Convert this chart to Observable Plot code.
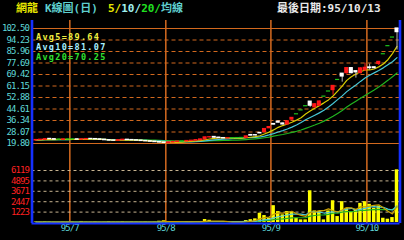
<!DOCTYPE html>
<html><head><meta charset="utf-8">
<script src="https://cdn.jsdelivr.net/npm/d3@7"></script>
<script src="https://cdn.jsdelivr.net/npm/@observablehq/plot@0.6"></script>
<style>
html,body{margin:0;padding:0;background:#000;}
#wrap{position:relative;width:404px;height:240px;background:#000;overflow:hidden;}
#wrap > svg{position:absolute;left:0;top:0;}
.t{position:absolute;white-space:nowrap;font-family:'DejaVu Sans Mono','Noto Sans CJK TC',monospace;font-weight:bold;font-size:11px;line-height:12px;}
.leg{font-size:8.5px;line-height:10px;letter-spacing:1.3px;}
</style></head><body><div id="wrap"></div>
<script>
// ---- data ----
const stockName = "網龍";
const chartTitle = "K線圖(日)";
const maTitleParts = ["5/", "10/", "20/", "均線"];
const lastDateText = "最後日期:95/10/13";
const maLabels = ["Avg5=89.64", "Avg10=81.07", "Avg20=70.25"];

const juneDays = [22,23,26,27,28,29,30];
const julyDays = [3,4,5,6,7,10,11,12,13,14,17,18,19,20,21,24,25,26,27,28,31];
const augDays  = [1,2,3,4,7,8,9,10,11,14,15,16,17,18,21,22,23,24,25,28,29,30,31];
const sepDays  = [1,4,5,6,7,8,11,12,13,14,15,18,19,20,21,22,25,26,27,28,29];
const octDays  = [2,3,4,5,9,11,12,13];
const monthLabels = ["95/7", "95/8", "95/9", "95/10"];

const open = [
22.0,22.3,22.5,23.1,22.9,22.6,22.5,
22.7,22.8,22.8,22.6,22.8,23.1,23.0,22.8,22.5,22.2,21.9,21.8,22.2,22.5,22.3,22.1,21.9,21.6,21.4,21.1,20.8,
20.5,20.2,20.6,20.9,21.2,21.3,21.6,21.8,22.2,22.8,24.2,24.5,24.0,23.7,23.5,23.6,23.7,23.8,23.9,25.9,25.8,27.4,28.0,
30.8,33.8,35.5,34.2,33.5,37.0,40.8,43.6,46.6,49.9,45.8,47.0,53.5,57.2,58.2,65.5,70.0,70.4,74.0,71.8,70.4,
72.5,74.5,74.6,77.0,84.0,89.8,96.0,102.5];
const high = [
22.6,22.7,23.1,23.3,23.0,22.8,22.9,
22.9,23.0,23.0,22.9,23.2,23.3,23.1,22.9,22.6,22.3,22.0,22.3,22.6,22.6,22.4,22.2,22.0,21.7,21.5,21.2,20.9,
20.6,20.7,21.0,21.3,21.5,21.7,21.9,22.3,22.8,24.3,24.6,24.7,24.2,23.9,23.8,23.9,24.0,24.0,25.0,26.2,26.0,27.4,30.3,
31.8,33.9,35.8,34.5,35.8,38.2,40.8,43.6,46.6,49.9,48.5,50.3,53.5,57.2,61.3,65.5,70.1,74.2,74.3,72.0,74.2,
77.6,76.9,74.8,78.5,84.0,89.8,96.0,102.5];
const low = [
21.9,22.2,22.4,22.8,22.5,22.3,22.4,
22.5,22.6,22.5,22.5,22.7,22.9,22.7,22.4,22.1,21.8,21.6,21.7,22.1,22.2,22.0,21.8,21.5,21.3,21.0,20.6,20.3,
19.8,20.1,20.5,20.8,21.0,21.2,21.4,21.7,22.1,22.7,23.9,23.8,23.6,23.4,23.3,23.4,23.6,23.7,23.8,25.3,25.3,26.9,27.8,
30.6,33.2,34.6,33.2,33.3,36.6,40.8,43.6,46.6,45.8,45.3,46.8,53.5,57.2,54.5,65.5,63.9,69.8,69.9,66.8,70.0,
71.8,72.5,73.5,76.0,84.0,89.8,96.0,87.0];
const close = [
22.3,22.5,22.9,22.9,22.6,22.6,22.7,
22.7,22.8,22.6,22.8,23.0,23.0,22.8,22.5,22.2,21.9,21.8,22.2,22.5,22.3,22.1,21.9,21.6,21.4,21.1,20.8,20.5,
20.2,20.6,20.9,21.2,21.2,21.6,21.8,22.2,22.7,24.2,24.3,24.0,23.7,23.5,23.6,23.6,23.7,23.8,24.9,25.5,25.6,27.1,30.2,
31.6,33.4,34.8,33.5,35.7,38.2,40.8,43.6,46.6,47.0,48.0,50.0,53.5,57.2,61.2,65.5,68.0,74.0,70.4,71.0,73.8,
74.2,74.0,74.0,78.5,84.0,89.8,96.0,99.9];
const volume = [
60,40,80,50,30,20,40,
30,50,20,120,40,30,60,20,30,90,40,30,80,20,60,40,30,50,20,40,150,
200,120,60,40,30,80,100,60,90,350,260,90,60,40,50,30,40,80,230,330,430,1090,815,
500,1980,1280,900,1280,1165,500,310,310,3730,1360,1280,310,1360,2560,700,2450,1670,1280,1550,2250,
2450,2140,1670,1940,500,390,580,6200];

const priceTicks = [102.50,94.23,85.96,77.69,69.42,61.15,52.88,44.61,36.34,28.07,19.80];
const volTicks = [6119,4895,3671,2447,1223];

// ---- build ----
const months = [["06",juneDays],["07",julyDays],["08",augDays],["09",sepDays],["10",octDays]];
const dates = months.flatMap(([m,ds]) => ds.map(d => `95/${m}/${String(d).padStart(2,"0")}`));
const rows = dates.map((d,i)=>({i, date:d, o:open[i], h:high[i], l:low[i], c:close[i], v:volume[i]}));
const monthStartIdx = [];
dates.forEach((d,i)=>{ if(i>0 && d.slice(3,5)!==dates[i-1].slice(3,5)) monthStartIdx.push(i); });

const RED="#ff1818", WHITE="#ffffff", GREEN="#1cc41c";
const C5="#d8cc00", C10="#48c8d8", C20="#20b420";
const bodyColor = r => r.c>r.o ? RED : r.c<r.o ? WHITE : GREEN;
const wickColor = r => r.c>r.o ? RED : r.c<r.o ? "#b8b8b8" : GREEN;
function ma(arr,n){return arr.map((_,i)=>d3.mean(arr.slice(Math.max(0,i-n+1),i+1)));}
const p5=ma(close,5), p10=ma(close,10), p20=ma(close,20);
const v5=ma(volume,5), v10=ma(volume,10), v20=ma(volume,20);

const W=404,H=240, mL=31.5, mR=4.5;
const xDomain=[-0.875,79.65];
const axisFont = {background:"transparent", fontFamily:"DejaVu Sans Mono", fontSize:"9px", letterSpacing:"-0.9px"};
const wrap=document.getElementById("wrap");

const overlay = Plot.plot({
  width:W,height:H,marginLeft:mL,marginRight:mR,marginTop:20,marginBottom:17,
  x:{domain:xDomain,axis:null}, y:{domain:[0,1],axis:null},
  style:{background:"transparent"},
  marks:[
    Plot.ruleX(monthStartIdx,{x:d=>d+0.4,stroke:"#c8641e",strokeWidth:1.6})
  ]
});

const price = Plot.plot({
  width:W,height:H,marginLeft:mL,marginRight:mR,marginTop:28,marginBottom:97,
  x:{domain:xDomain,axis:null},
  y:{domain:[19.8,102.5],ticks:priceTicks,tickFormat:d=>d.toFixed(2),tickSize:0,tickPadding:3,label:null},
  style:{...axisFont,color:"#5fd7d7"},
  marks:[
    Plot.ruleY(priceTicks.slice(1,-1),{stroke:"#d2691e",strokeDasharray:"4,3"}),
    Plot.ruleY([priceTicks[0],priceTicks[priceTicks.length-1]],{stroke:"#d2691e",strokeWidth:1.2}),
    Plot.line(p20,{x:(d,i)=>i,y:d=>d,stroke:C20,strokeWidth:1.2}),
    Plot.line(p10,{x:(d,i)=>i,y:d=>d,stroke:C10,strokeWidth:1.2}),
    Plot.line(p5,{x:(d,i)=>i,y:d=>d,stroke:C5,strokeWidth:1.2}),
    Plot.ruleX(rows,{x:"i",y1:"l",y2:"h",stroke:wickColor,strokeWidth:1}),
    Plot.rect(rows,{x1:d=>d.i-0.45,x2:d=>d.i+0.45,y1:"o",y2:"c",fill:bodyColor,insetTop:-0.6,insetBottom:-0.6})
  ]
});

const vol = Plot.plot({
  width:W,height:H,marginLeft:mL,marginRight:mR,marginTop:170,marginBottom:18,
  x:{domain:xDomain,axis:null},
  y:{domain:[0,6119],ticks:volTicks,tickFormat:d=>String(d),tickSize:0,tickPadding:3,label:null},
  style:{...axisFont,color:"#ff2020"},
  marks:[
    Plot.ruleY(volTicks,{stroke:"#c8b490",strokeDasharray:"3,3"}),
    Plot.rectY(rows,{x1:d=>d.i-0.38,x2:d=>d.i+0.38,y:"v",fill:"#ffff00"}),
    Plot.line(v20,{x:(d,i)=>i,y:d=>d,stroke:C20,strokeWidth:1.2}),
    Plot.line(v10,{x:(d,i)=>i,y:d=>d,stroke:C10,strokeWidth:1.2}),
    Plot.line(v5,{x:(d,i)=>i,y:d=>d,stroke:"#c8a000",strokeWidth:1.2}),
    Plot.text(monthStartIdx,{x:d=>d+0.4,frameAnchor:"bottom",dy:8.5,text:(d,i)=>monthLabels[i],fill:"#5fd7d7"})
  ]
});

const frame = Plot.plot({
  width:W,height:H,marginLeft:mL,marginRight:mR,marginTop:20,marginBottom:17,
  x:{domain:xDomain,axis:null}, y:{domain:[0,1],axis:null},
  style:{background:"transparent"},
  marks:[
    Plot.ruleX(xDomain,{stroke:"#1430ff",strokeWidth:2.6}),
    Plot.ruleY([0],{stroke:"#1430ff",strokeWidth:2})
  ]
});

[overlay,price,vol,frame].forEach(s=>wrap.appendChild(s));

function addText(txt,left,top,color,cls){
  const d=document.createElement("div");d.className="t"+(cls?" "+cls:"");
  d.style.left=left+"px";d.style.top=top+"px";d.style.color=color;d.textContent=txt;
  wrap.appendChild(d);return d;
}
addText(stockName,16,3,"#e8e800");
addText(chartTitle,45,3,"#5fcfcf");
const mt=addText("",108,3,"#5fcfcf");
const mtColors=["#e8e800","#9ff0f0","#20e020","#5fcfcf"];
maTitleParts.forEach((p,k)=>{const s=document.createElement("span");s.textContent=p;s.style.color=mtColors[k];mt.appendChild(s);});
addText(lastDateText,277,3,"#e8e8e8");
const legColors=["#f0f040","#a8f0ff","#30e030"];
maLabels.forEach((t,k)=>addText(t,36,32+k*10,legColors[k],"leg"));
</script></body></html>
